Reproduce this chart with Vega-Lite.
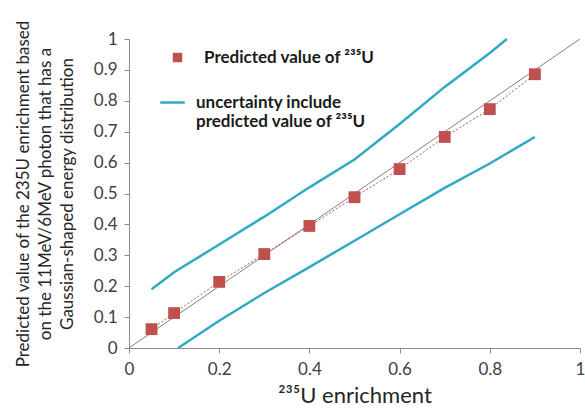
{
  "$schema": "https://vega.github.io/schema/vega-lite/v6.json",
  "width": 451,
  "height": 309,
  "autosize": "none",
  "padding": {"left": 129, "top": 39, "right": 5, "bottom": 62},
  "background": "white",
  "config": {
    "view": {"stroke": null},
    "font": "Lato",
    "axis": {
      "grid": false,
      "domainColor": "#8c8c8c",
      "tickColor": "#8c8c8c",
      "tickSize": 5,
      "labelFont": "Lato",
      "labelFontSize": 17,
      "labelColor": "#404040",
      "labelFlush": false,
      "labelOverlap": false,
      "titleFont": "Lato",
      "titleFontWeight": "normal",
      "titleColor": "#262626"
    }
  },
  "datasets": {
    "pred": [
      {"x": 0.05, "y": 0.061},
      {"x": 0.1, "y": 0.113},
      {"x": 0.2, "y": 0.214},
      {"x": 0.3, "y": 0.304},
      {"x": 0.4, "y": 0.395},
      {"x": 0.5, "y": 0.488},
      {"x": 0.6, "y": 0.579},
      {"x": 0.7, "y": 0.683},
      {"x": 0.8, "y": 0.773},
      {"x": 0.9, "y": 0.886}
    ],
    "unc": [
      {"bound": "upper", "x": 0.05, "y": 0.19},
      {"bound": "upper", "x": 0.1, "y": 0.245},
      {"bound": "upper", "x": 0.2, "y": 0.335},
      {"bound": "upper", "x": 0.3, "y": 0.425},
      {"bound": "upper", "x": 0.4, "y": 0.52},
      {"bound": "upper", "x": 0.5, "y": 0.61},
      {"bound": "upper", "x": 0.6, "y": 0.725},
      {"bound": "upper", "x": 0.7, "y": 0.845},
      {"bound": "upper", "x": 0.8, "y": 0.955},
      {"bound": "upper", "x": 0.838, "y": 1.0},
      {"bound": "lower", "x": 0.109, "y": 0.0},
      {"bound": "lower", "x": 0.2, "y": 0.088},
      {"bound": "lower", "x": 0.3, "y": 0.178},
      {"bound": "lower", "x": 0.4, "y": 0.262},
      {"bound": "lower", "x": 0.5, "y": 0.347},
      {"bound": "lower", "x": 0.6, "y": 0.433},
      {"bound": "lower", "x": 0.7, "y": 0.518},
      {"bound": "lower", "x": 0.8, "y": 0.597},
      {"bound": "lower", "x": 0.9, "y": 0.683}
    ],
    "diag": [
      {"x": 0, "y": 0},
      {"x": 1, "y": 1}
    ]
  },
  "encoding": {
    "x": {
      "field": "x", "type": "quantitative",
      "scale": {"domain": [0, 1], "nice": false},
      "axis": {"values": [0, 0.2, 0.4, 0.6, 0.8, 1], "format": "~g", "title": "²³⁵U enrichment", "titleFontSize": 22, "titlePadding": 8, "labelPadding": 8}
    },
    "y": {
      "field": "y", "type": "quantitative",
      "scale": {"domain": [0, 1], "nice": false},
      "axis": {
        "values": [0, 0.1, 0.2, 0.3, 0.4, 0.5, 0.6, 0.7, 0.8, 0.9, 1],
        "format": "~g",
        "title": ["Predicted value of the 235U enrichment based", "on the 11MeV/6MeV photon that has a", "Gaussian-shaped  energy distribution"],
        "titleFontSize": 17,
        "titleLineHeight": 22,
        "titlePadding": 17,
        "labelPadding": 7
      }
    }
  },
  "layer": [
    {
      "data": {"name": "diag"},
      "mark": {"type": "line", "color": "#808080", "strokeWidth": 1}
    },
    {
      "data": {"name": "unc"},
      "mark": {"type": "line", "strokeWidth": 2.5},
      "encoding": {
        "detail": {"field": "bound"},
        "color": {
          "datum": "uncertainty include|predicted value of ²³⁵U",
          "type": "nominal",
          "scale": {"range": ["#31A9C6"]},
          "legend": {
            "title": null,
            "orient": "none",
            "legendX": 30,
            "legendY": 50,
            "symbolType": "stroke",
            "symbolSize": 600,
            "symbolStrokeWidth": 2.5,
            "labelFont": "Lato",
            "labelFontSize": 17,
            "labelFontWeight": "bold",
            "labelColor": "#1a1a1a",
            "labelExpr": "split(datum.label, '|')",
            "labelLimit": 400,
            "labelOffset": 10
          }
        }
      }
    },
    {
      "data": {"name": "pred"},
      "mark": {"type": "line", "color": "#C0504D", "strokeWidth": 1, "strokeDash": [2, 2]}
    },
    {
      "data": {"name": "pred"},
      "mark": {"type": "point", "filled": true, "color": "#C0504D", "opacity": 1, "size": 140},
      "encoding": {
        "shape": {
          "datum": "Predicted value of ²³⁵U",
          "type": "nominal",
          "scale": {"range": ["square"]},
          "legend": {
            "title": null,
            "orient": "none",
            "legendX": 40,
            "legendY": 10,
            "symbolSize": 90,
            "symbolFillColor": "#C0504D",
            "symbolStrokeColor": "#C0504D",
            "labelFont": "Lato",
            "labelFontSize": 17,
            "labelFontWeight": "bold",
            "labelColor": "#1a1a1a",
            "labelLimit": 400,
            "labelOffset": 18
          }
        }
      }
    }
  ]
}
